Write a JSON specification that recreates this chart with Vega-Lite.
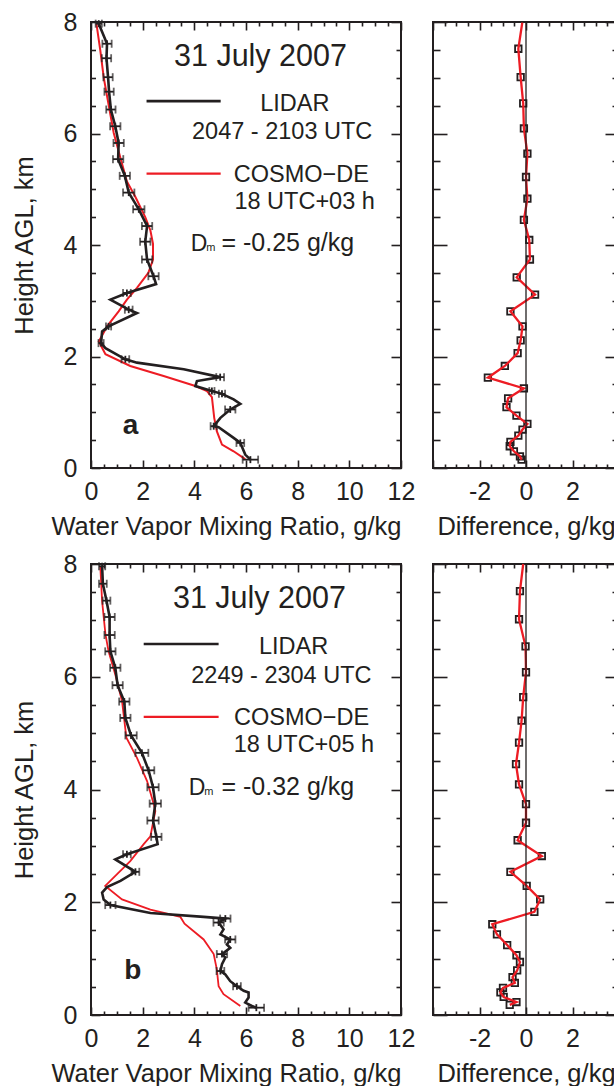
{
  "$schema": "https://vega.github.io/schema/vega-lite/v6.json",
  "background": "white",
  "padding": {"left": 11, "top": 9, "right": 0, "bottom": 0},
  "bounds": "flush",
  "columns": 2,
  "spacing": {"row": 96, "column": 32},
  "datasets": {
    "one": [{}],
    "a_lidar": [
      {"h": 7.97, "q": 0.30, "err": 0.12}, {"h": 7.61, "q": 0.62, "err": 0.18}, {"h": 7.35, "q": 0.60, "err": 0.18},
      {"h": 7.01, "q": 0.66, "err": 0.18}, {"h": 6.75, "q": 0.70, "err": 0.18}, {"h": 6.43, "q": 0.77, "err": 0.18},
      {"h": 6.13, "q": 0.94, "err": 0.2}, {"h": 5.83, "q": 1.07, "err": 0.2}, {"h": 5.54, "q": 1.05, "err": 0.2},
      {"h": 5.24, "q": 1.31, "err": 0.2}, {"h": 4.94, "q": 1.46, "err": 0.22}, {"h": 4.64, "q": 1.85, "err": 0.22},
      {"h": 4.34, "q": 2.17, "err": 0.2}, {"h": 4.06, "q": 2.10, "err": 0.2}, {"h": 3.74, "q": 2.17, "err": 0.2},
      {"h": 3.44, "q": 2.42, "err": 0.2}, {"h": 3.30, "q": 2.52, "err": null}, {"h": 3.14, "q": 1.39, "err": 0.15},
      {"h": 3.02, "q": 0.75, "err": null}, {"h": 2.84, "q": 1.46, "err": 0.15}, {"h": 2.78, "q": 1.78, "err": null},
      {"h": 2.54, "q": 0.68, "err": 0.1}, {"h": 2.45, "q": 0.43, "err": null}, {"h": 2.24, "q": 0.39, "err": 0.1},
      {"h": 2.15, "q": 0.56, "err": null}, {"h": 1.95, "q": 1.33, "err": 0.15}, {"h": 1.89, "q": 1.78, "err": null},
      {"h": 1.77, "q": 3.59, "err": null}, {"h": 1.63, "q": 5.00, "err": 0.15}, {"h": 1.56, "q": 4.10, "err": null},
      {"h": 1.47, "q": 4.04, "err": null}, {"h": 1.38, "q": 4.68, "err": 0.1}, {"h": 1.33, "q": 5.07, "err": 0.12},
      {"h": 1.23, "q": 5.52, "err": null}, {"h": 1.15, "q": 5.78, "err": null}, {"h": 1.05, "q": 5.39, "err": 0.2},
      {"h": 0.90, "q": 5.01, "err": null}, {"h": 0.75, "q": 4.75, "err": 0.12}, {"h": 0.73, "q": 4.94, "err": null},
      {"h": 0.54, "q": 5.52, "err": null}, {"h": 0.45, "q": 5.78, "err": 0.15}, {"h": 0.24, "q": 5.97, "err": null},
      {"h": 0.15, "q": 6.17, "err": 0.3}
    ],
    "a_cosmo": [
      {"h": 7.97, "q": 0.21}, {"h": 7.49, "q": 0.36}, {"h": 7.01, "q": 0.49}, {"h": 6.52, "q": 0.68},
      {"h": 6.01, "q": 0.88}, {"h": 5.56, "q": 1.14}, {"h": 5.14, "q": 1.39}, {"h": 4.86, "q": 1.72},
      {"h": 4.50, "q": 2.10}, {"h": 4.26, "q": 2.30}, {"h": 4.02, "q": 2.40}, {"h": 3.74, "q": 2.40},
      {"h": 3.50, "q": 2.22}, {"h": 3.23, "q": 1.78}, {"h": 3.02, "q": 1.39}, {"h": 2.81, "q": 1.07},
      {"h": 2.54, "q": 0.62}, {"h": 2.27, "q": 0.30}, {"h": 2.04, "q": 0.56}, {"h": 1.83, "q": 1.52},
      {"h": 1.65, "q": 2.81}, {"h": 1.47, "q": 4.04}, {"h": 1.38, "q": 4.49}, {"h": 1.27, "q": 4.68},
      {"h": 0.90, "q": 4.77}, {"h": 0.66, "q": 4.87}, {"h": 0.42, "q": 5.07}, {"h": 0.30, "q": 5.52},
      {"h": 0.16, "q": 5.97}
    ],
    "a_dline": [
      {"h": 7.99, "d": -0.16}, {"h": 7.52, "d": -0.33}, {"h": 7.01, "d": -0.23}, {"h": 6.54, "d": -0.12},
      {"h": 6.09, "d": -0.09}, {"h": 5.64, "d": 0.06}, {"h": 5.22, "d": 0.0}, {"h": 4.83, "d": 0.06},
      {"h": 4.45, "d": -0.09}, {"h": 4.09, "d": 0.14}, {"h": 3.74, "d": 0.17}, {"h": 3.42, "d": -0.40},
      {"h": 3.11, "d": 0.39}, {"h": 2.81, "d": -0.67}, {"h": 2.54, "d": -0.15}, {"h": 2.29, "d": -0.23},
      {"h": 2.06, "d": -0.36}, {"h": 1.83, "d": -0.91}, {"h": 1.62, "d": -1.64}, {"h": 1.43, "d": -0.09},
      {"h": 1.25, "d": -0.77}, {"h": 1.09, "d": -0.84}, {"h": 0.94, "d": -0.41}, {"h": 0.79, "d": 0.06},
      {"h": 0.69, "d": -0.15}, {"h": 0.58, "d": -0.33}, {"h": 0.47, "d": -0.67}, {"h": 0.39, "d": -0.70},
      {"h": 0.30, "d": -0.52}, {"h": 0.21, "d": -0.26}, {"h": 0.15, "d": -0.19}
    ],
    "a_dpts": [
      {"h": 7.52, "d": -0.33}, {"h": 7.01, "d": -0.23}, {"h": 6.54, "d": -0.12},
      {"h": 6.09, "d": -0.09}, {"h": 5.64, "d": 0.06}, {"h": 5.22, "d": 0.0}, {"h": 4.83, "d": 0.06},
      {"h": 4.45, "d": -0.09}, {"h": 4.09, "d": 0.14}, {"h": 3.74, "d": 0.17}, {"h": 3.42, "d": -0.40},
      {"h": 3.11, "d": 0.39}, {"h": 2.81, "d": -0.67}, {"h": 2.54, "d": -0.15}, {"h": 2.29, "d": -0.23},
      {"h": 2.06, "d": -0.36}, {"h": 1.83, "d": -0.91}, {"h": 1.62, "d": -1.64}, {"h": 1.43, "d": -0.09},
      {"h": 1.25, "d": -0.77}, {"h": 1.09, "d": -0.84}, {"h": 0.94, "d": -0.41}, {"h": 0.79, "d": 0.06},
      {"h": 0.69, "d": -0.15}, {"h": 0.58, "d": -0.33}, {"h": 0.47, "d": -0.67}, {"h": 0.39, "d": -0.70},
      {"h": 0.30, "d": -0.52}, {"h": 0.21, "d": -0.26}, {"h": 0.15, "d": -0.19}
    ],
    "b_lidar": [
      {"h": 7.96, "q": 0.43, "err": 0.12}, {"h": 7.65, "q": 0.46, "err": 0.15}, {"h": 7.35, "q": 0.60, "err": 0.15},
      {"h": 7.06, "q": 0.72, "err": 0.2}, {"h": 6.74, "q": 0.72, "err": 0.2}, {"h": 6.45, "q": 0.75, "err": 0.2},
      {"h": 6.16, "q": 0.94, "err": 0.2}, {"h": 5.85, "q": 1.03, "err": 0.2}, {"h": 5.56, "q": 1.29, "err": 0.2},
      {"h": 5.27, "q": 1.33, "err": 0.2}, {"h": 4.96, "q": 1.55, "err": 0.22}, {"h": 4.65, "q": 1.97, "err": 0.25},
      {"h": 4.34, "q": 2.23, "err": 0.22}, {"h": 4.04, "q": 2.40, "err": 0.22}, {"h": 3.75, "q": 2.49, "err": 0.22},
      {"h": 3.45, "q": 2.40, "err": 0.22}, {"h": 3.16, "q": 2.53, "err": 0.2}, {"h": 3.03, "q": 2.58, "err": null},
      {"h": 2.85, "q": 1.39, "err": 0.15}, {"h": 2.76, "q": 0.94, "err": null}, {"h": 2.54, "q": 1.72, "err": 0.15},
      {"h": 2.38, "q": 1.14, "err": null}, {"h": 2.27, "q": 0.62, "err": null}, {"h": 2.17, "q": 0.43, "err": null},
      {"h": 2.05, "q": 0.49, "err": null}, {"h": 1.95, "q": 0.75, "err": 0.2}, {"h": 1.81, "q": 2.30, "err": null},
      {"h": 1.74, "q": 4.36, "err": null}, {"h": 1.71, "q": 5.20, "err": 0.2}, {"h": 1.64, "q": 4.94, "err": 0.2},
      {"h": 1.52, "q": 5.13, "err": null}, {"h": 1.43, "q": 5.01, "err": null}, {"h": 1.34, "q": 5.39, "err": 0.2},
      {"h": 1.25, "q": 5.26, "err": null}, {"h": 1.19, "q": 5.39, "err": null}, {"h": 1.08, "q": 5.07, "err": 0.2},
      {"h": 1.02, "q": 5.20, "err": null}, {"h": 0.90, "q": 5.07, "err": null}, {"h": 0.78, "q": 5.01, "err": 0.15},
      {"h": 0.72, "q": 5.20, "err": null}, {"h": 0.60, "q": 5.39, "err": null}, {"h": 0.51, "q": 5.65, "err": 0.15},
      {"h": 0.43, "q": 5.91, "err": null}, {"h": 0.40, "q": 6.10, "err": null}, {"h": 0.31, "q": 6.10, "err": null},
      {"h": 0.22, "q": 5.97, "err": null}, {"h": 0.16, "q": 6.23, "err": null}, {"h": 0.13, "q": 6.40, "err": 0.3}
    ],
    "b_cosmo": [
      {"h": 7.96, "q": 0.36}, {"h": 7.34, "q": 0.43}, {"h": 6.75, "q": 0.56}, {"h": 6.45, "q": 0.68},
      {"h": 6.04, "q": 0.94}, {"h": 5.57, "q": 1.20}, {"h": 4.92, "q": 1.37}, {"h": 4.56, "q": 1.78},
      {"h": 4.15, "q": 2.17}, {"h": 3.74, "q": 2.43}, {"h": 3.62, "q": 2.49}, {"h": 3.17, "q": 2.30},
      {"h": 3.03, "q": 2.04}, {"h": 2.73, "q": 1.52}, {"h": 2.50, "q": 1.01}, {"h": 2.29, "q": 0.55},
      {"h": 2.05, "q": 1.20}, {"h": 1.87, "q": 2.30}, {"h": 1.74, "q": 3.46}, {"h": 1.62, "q": 3.62},
      {"h": 1.34, "q": 4.36}, {"h": 1.08, "q": 4.75}, {"h": 0.81, "q": 4.87}, {"h": 0.51, "q": 4.94},
      {"h": 0.37, "q": 5.13}, {"h": 0.16, "q": 5.78}
    ],
    "b_dline": [
      {"h": 8.0, "d": -0.12}, {"h": 7.52, "d": -0.26}, {"h": 7.02, "d": -0.30}, {"h": 6.54, "d": -0.02},
      {"h": 6.08, "d": 0.0}, {"h": 5.64, "d": -0.12}, {"h": 5.22, "d": -0.19}, {"h": 4.83, "d": -0.30},
      {"h": 4.45, "d": -0.43}, {"h": 4.09, "d": -0.30}, {"h": 3.74, "d": 0.0}, {"h": 3.41, "d": 0.0},
      {"h": 3.10, "d": -0.36}, {"h": 2.82, "d": 0.68}, {"h": 2.54, "d": -0.67}, {"h": 2.29, "d": 0.03},
      {"h": 2.05, "d": 0.61}, {"h": 1.83, "d": 0.36}, {"h": 1.61, "d": -1.45}, {"h": 1.43, "d": -1.25},
      {"h": 1.24, "d": -0.81}, {"h": 1.06, "d": -0.41}, {"h": 0.94, "d": -0.26}, {"h": 0.79, "d": -0.38},
      {"h": 0.67, "d": -0.58}, {"h": 0.57, "d": -0.48}, {"h": 0.48, "d": -0.99}, {"h": 0.40, "d": -1.10},
      {"h": 0.32, "d": -0.96}, {"h": 0.23, "d": -0.41}, {"h": 0.18, "d": -0.70}
    ],
    "b_dpts": [
      {"h": 7.52, "d": -0.26}, {"h": 7.02, "d": -0.30}, {"h": 6.54, "d": -0.02},
      {"h": 6.08, "d": 0.0}, {"h": 5.64, "d": -0.12}, {"h": 5.22, "d": -0.19}, {"h": 4.83, "d": -0.30},
      {"h": 4.45, "d": -0.43}, {"h": 4.09, "d": -0.30}, {"h": 3.74, "d": 0.0}, {"h": 3.41, "d": 0.0},
      {"h": 3.10, "d": -0.36}, {"h": 2.82, "d": 0.68}, {"h": 2.54, "d": -0.67}, {"h": 2.29, "d": 0.03},
      {"h": 2.05, "d": 0.61}, {"h": 1.83, "d": 0.36}, {"h": 1.61, "d": -1.45}, {"h": 1.43, "d": -1.25},
      {"h": 1.24, "d": -0.81}, {"h": 1.06, "d": -0.41}, {"h": 0.94, "d": -0.26}, {"h": 0.79, "d": -0.38},
      {"h": 0.67, "d": -0.58}, {"h": 0.57, "d": -0.48}, {"h": 0.48, "d": -0.99}, {"h": 0.40, "d": -1.10},
      {"h": 0.32, "d": -0.96}, {"h": 0.23, "d": -0.41}, {"h": 0.18, "d": -0.70}
    ]
  },
  "concat": [
    {
      "width": 310, "height": 446,
      "resolve": {"axis": {"x": "independent", "y": "independent"}},
      "layer": [
        {"data": {"name": "a_cosmo"},
         "mark": {"type": "line", "color": "#ed1c24", "strokeWidth": 2},
         "encoding": {
           "x": {"field": "q", "type": "quantitative", "scale": {"domain": [0, 12], "nice": false, "zero": false},
                 "axis": {"orient": "bottom", "values": [0,0.5,1,1.5,2,2.5,3,3.5,4,4.5,5,5.5,6,6.5,7,7.5,8,8.5,9,9.5,10,10.5,11,11.5,12],
                          "tickSize": {"condition": {"test": "datum.value % 2 === 0", "value": -8}, "value": -4},
                          "labelExpr": "datum.value % 2 === 0 ? '' + datum.value : ''", "labelPadding": 19,
                          "title": "Water Vapor Mixing Ratio, g/kg", "titleAnchor": "end", "titlePadding": 6}},
           "y": {"field": "h", "type": "quantitative", "scale": {"domain": [0, 8], "nice": false, "zero": false},
                 "axis": {"orient": "left", "values": [0,0.5,1,1.5,2,2.5,3,3.5,4,4.5,5,5.5,6,6.5,7,7.5,8],
                          "tickSize": {"condition": {"test": "datum.value % 2 === 0", "value": -9}, "value": -4.5},
                          "labelExpr": "datum.value % 2 === 0 ? '' + datum.value : ''", "labelPadding": 23,
                          "title": "Height AGL, km", "titlePadding": 26}},
           "order": {"field": "h", "type": "quantitative"}}},
        {"data": {"name": "a_lidar"},
         "mark": {"type": "line", "color": "#231f20", "strokeWidth": 2.6},
         "encoding": {
           "x": {"field": "q", "type": "quantitative", "scale": {"domain": [0, 12], "nice": false, "zero": false},
                 "axis": {"orient": "top", "values": [0,0.5,1,1.5,2,2.5,3,3.5,4,4.5,5,5.5,6,6.5,7,7.5,8,8.5,9,9.5,10,10.5,11,11.5,12],
                          "tickSize": {"condition": {"test": "datum.value % 2 === 0", "value": -8}, "value": -4},
                          "labels": false, "title": null}},
           "y": {"field": "h", "type": "quantitative", "scale": {"domain": [0, 8], "nice": false, "zero": false},
                 "axis": {"orient": "right", "values": [0,0.5,1,1.5,2,2.5,3,3.5,4,4.5,5,5.5,6,6.5,7,7.5,8],
                          "tickSize": {"condition": {"test": "datum.value % 2 === 0", "value": -10}, "value": -5},
                          "labels": false, "title": null}},
           "order": {"field": "h", "type": "quantitative"}}},
        {"data": {"name": "a_lidar"},
         "transform": [{"filter": "isValid(datum.err)"}],
         "mark": {"type": "errorbar", "color": "#231f20", "thickness": 1.8, "ticks": {"size": 8, "thickness": 1.8, "color": "#231f20"}},
         "encoding": {
           "x": {"field": "q", "type": "quantitative", "scale": {"domain": [0, 12], "nice": false, "zero": false}, "axis": null},
           "xError": {"field": "err"},
           "y": {"field": "h", "type": "quantitative", "scale": {"domain": [0, 8], "nice": false, "zero": false}, "axis": null}}},
        {"data": {"name": "a_lidar"},
         "transform": [{"filter": "isValid(datum.err)"}],
         "mark": {"type": "tick", "orient": "vertical", "size": 7, "thickness": 1.8, "color": "#231f20", "opacity": 1},
         "encoding": {
           "x": {"field": "q", "type": "quantitative", "scale": {"domain": [0, 12], "nice": false, "zero": false}, "axis": null},
           "y": {"field": "h", "type": "quantitative", "scale": {"domain": [0, 8], "nice": false, "zero": false}, "axis": null}}},
        {"data": {"name": "one"}, "mark": {"type": "text", "text": "31 July 2007", "fontSize": 30.5, "align": "center", "baseline": "alphabetic", "color": "#231f20"},
         "encoding": {"x": {"datum": 6.56, "type": "quantitative", "axis": null}, "y": {"datum": 7.21, "type": "quantitative", "axis": null}}},
        {"data": {"name": "one"}, "mark": {"type": "rule", "color": "#231f20", "strokeWidth": 2.6},
         "encoding": {"x": {"datum": 2.15, "type": "quantitative", "axis": null}, "x2": {"datum": 5.02}, "y": {"datum": 6.58, "type": "quantitative", "axis": null}}},
        {"data": {"name": "one"}, "mark": {"type": "text", "text": "LIDAR", "fontSize": 23.5, "align": "center", "baseline": "alphabetic", "color": "#231f20"},
         "encoding": {"x": {"datum": 7.89, "type": "quantitative", "axis": null}, "y": {"datum": 6.40, "type": "quantitative", "axis": null}}},
        {"data": {"name": "one"}, "mark": {"type": "text", "text": "2047 - 2103 UTC", "fontSize": 23.5, "align": "center", "baseline": "alphabetic", "color": "#231f20"},
         "encoding": {"x": {"datum": 7.40, "type": "quantitative", "axis": null}, "y": {"datum": 5.90, "type": "quantitative", "axis": null}}},
        {"data": {"name": "one"}, "mark": {"type": "rule", "color": "#ed1c24", "strokeWidth": 2.2},
         "encoding": {"x": {"datum": 2.15, "type": "quantitative", "axis": null}, "x2": {"datum": 5.02}, "y": {"datum": 5.28, "type": "quantitative", "axis": null}}},
        {"data": {"name": "one"}, "mark": {"type": "text", "text": "COSMO−DE", "fontSize": 23.5, "align": "center", "baseline": "alphabetic", "color": "#231f20"},
         "encoding": {"x": {"datum": 8.14, "type": "quantitative", "axis": null}, "y": {"datum": 5.13, "type": "quantitative", "axis": null}}},
        {"data": {"name": "one"}, "mark": {"type": "text", "text": "18 UTC+03 h", "fontSize": 23.5, "align": "center", "baseline": "alphabetic", "color": "#231f20"},
         "encoding": {"x": {"datum": 8.27, "type": "quantitative", "axis": null}, "y": {"datum": 4.65, "type": "quantitative", "axis": null}}},
        {"data": {"name": "one"}, "mark": {"type": "text", "text": "D", "fontSize": 23, "align": "left", "baseline": "alphabetic", "color": "#231f20"},
         "encoding": {"x": {"datum": 3.86, "type": "quantitative", "axis": null}, "y": {"datum": 3.90, "type": "quantitative", "axis": null}}},
        {"data": {"name": "one"}, "mark": {"type": "text", "text": "m", "fontSize": 11, "align": "left", "baseline": "alphabetic", "color": "#231f20"},
         "encoding": {"x": {"datum": 4.46, "type": "quantitative", "axis": null}, "y": {"datum": 3.90, "type": "quantitative", "axis": null}}},
        {"data": {"name": "one"}, "mark": {"type": "text", "text": "= -0.25 g/kg", "fontSize": 25, "align": "left", "baseline": "alphabetic", "color": "#231f20"},
         "encoding": {"x": {"datum": 5.05, "type": "quantitative", "axis": null}, "y": {"datum": 3.90, "type": "quantitative", "axis": null}}},
        {"data": {"name": "one"}, "mark": {"type": "text", "text": "a", "fontSize": 28, "fontWeight": "bold", "align": "center", "baseline": "alphabetic", "color": "#231f20"},
         "encoding": {"x": {"datum": 1.53, "type": "quantitative", "axis": null}, "y": {"datum": 0.61, "type": "quantitative", "axis": null}}}
      ]
    },
    {
      "width": 186, "height": 446,
      "resolve": {"axis": {"x": "independent", "y": "independent"}},
      "layer": [
        {"data": {"name": "a_dpts"},
         "mark": {"type": "point", "shape": "square", "filled": false, "size": 42, "stroke": "#231f20", "strokeWidth": 1.8, "opacity": 1},
         "encoding": {
           "x": {"field": "d", "type": "quantitative", "scale": {"domain": [-4, 4], "nice": false, "zero": false},
                 "axis": {"orient": "bottom", "values": [-4,-3.5,-3,-2.5,-2,-1.5,-1,-0.5,0,0.5,1,1.5,2,2.5,3,3.5,4],
                          "tickSize": {"condition": {"test": "datum.value % 2 === 0", "value": -8}, "value": -4},
                          "labelExpr": "datum.value % 2 === 0 && abs(datum.value) < 4 ? (datum.value < 0 ? '-' + abs(datum.value) : '' + datum.value) : ''",
                          "labelPadding": 19, "title": "Difference, g/kg", "titlePadding": 6}},
           "y": {"field": "h", "type": "quantitative", "scale": {"domain": [0, 8], "nice": false, "zero": false},
                 "axis": {"orient": "left", "values": [0,0.5,1,1.5,2,2.5,3,3.5,4,4.5,5,5.5,6,6.5,7,7.5,8],
                          "tickSize": {"condition": {"test": "datum.value % 2 === 0", "value": -14}, "value": -7},
                          "labels": false, "title": null}}}},
        {"data": {"name": "a_dline"},
         "mark": {"type": "line", "color": "#ed1c24", "strokeWidth": 2.3},
         "encoding": {
           "x": {"field": "d", "type": "quantitative", "scale": {"domain": [-4, 4], "nice": false, "zero": false},
                 "axis": {"orient": "top", "values": [-4,-3.5,-3,-2.5,-2,-1.5,-1,-0.5,0,0.5,1,1.5,2,2.5,3,3.5,4],
                          "tickSize": {"condition": {"test": "datum.value % 2 === 0", "value": -8}, "value": -4},
                          "labels": false, "title": null}},
           "y": {"field": "h", "type": "quantitative", "scale": {"domain": [0, 8], "nice": false, "zero": false},
                 "axis": {"orient": "right", "values": [0,0.5,1,1.5,2,2.5,3,3.5,4,4.5,5,5.5,6,6.5,7,7.5,8],
                          "tickSize": {"condition": {"test": "datum.value % 2 === 0", "value": -14}, "value": -7},
                          "labels": false, "title": null}},
           "order": {"field": "h", "type": "quantitative"}}},
        {"data": {"name": "one"}, "mark": {"type": "rule", "color": "#231f20", "strokeWidth": 1.3},
         "encoding": {"x": {"datum": 0, "type": "quantitative", "axis": null}}}
      ]
    },
    {
      "width": 310, "height": 451,
      "resolve": {"axis": {"x": "independent", "y": "independent"}},
      "layer": [
        {"data": {"name": "b_cosmo"},
         "mark": {"type": "line", "color": "#ed1c24", "strokeWidth": 1.8},
         "encoding": {
           "x": {"field": "q", "type": "quantitative", "scale": {"domain": [0, 12], "nice": false, "zero": false},
                 "axis": {"orient": "bottom", "values": [0,0.5,1,1.5,2,2.5,3,3.5,4,4.5,5,5.5,6,6.5,7,7.5,8,8.5,9,9.5,10,10.5,11,11.5,12],
                          "tickSize": {"condition": {"test": "datum.value % 2 === 0", "value": -8}, "value": -4},
                          "labelExpr": "datum.value % 2 === 0 ? '' + datum.value : ''", "labelPadding": 19,
                          "title": "Water Vapor Mixing Ratio, g/kg", "titleAnchor": "end", "titlePadding": 6}},
           "y": {"field": "h", "type": "quantitative", "scale": {"domain": [0, 8], "nice": false, "zero": false},
                 "axis": {"orient": "left", "values": [0,0.5,1,1.5,2,2.5,3,3.5,4,4.5,5,5.5,6,6.5,7,7.5,8],
                          "tickSize": {"condition": {"test": "datum.value % 2 === 0", "value": -9}, "value": -4.5},
                          "labelExpr": "datum.value % 2 === 0 ? '' + datum.value : ''", "labelPadding": 23,
                          "title": "Height AGL, km", "titlePadding": 26}},
           "order": {"field": "h", "type": "quantitative"}}},
        {"data": {"name": "b_lidar"},
         "mark": {"type": "line", "color": "#231f20", "strokeWidth": 2.6},
         "encoding": {
           "x": {"field": "q", "type": "quantitative", "scale": {"domain": [0, 12], "nice": false, "zero": false},
                 "axis": {"orient": "top", "values": [0,0.5,1,1.5,2,2.5,3,3.5,4,4.5,5,5.5,6,6.5,7,7.5,8,8.5,9,9.5,10,10.5,11,11.5,12],
                          "tickSize": {"condition": {"test": "datum.value % 2 === 0", "value": -8}, "value": -4},
                          "labels": false, "title": null}},
           "y": {"field": "h", "type": "quantitative", "scale": {"domain": [0, 8], "nice": false, "zero": false},
                 "axis": {"orient": "right", "values": [0,0.5,1,1.5,2,2.5,3,3.5,4,4.5,5,5.5,6,6.5,7,7.5,8],
                          "tickSize": {"condition": {"test": "datum.value % 2 === 0", "value": -10}, "value": -5},
                          "labels": false, "title": null}},
           "order": {"field": "h", "type": "quantitative"}}},
        {"data": {"name": "b_lidar"},
         "transform": [{"filter": "isValid(datum.err)"}],
         "mark": {"type": "errorbar", "color": "#231f20", "thickness": 1.8, "ticks": {"size": 8, "thickness": 1.8, "color": "#231f20"}},
         "encoding": {
           "x": {"field": "q", "type": "quantitative", "scale": {"domain": [0, 12], "nice": false, "zero": false}, "axis": null},
           "xError": {"field": "err"},
           "y": {"field": "h", "type": "quantitative", "scale": {"domain": [0, 8], "nice": false, "zero": false}, "axis": null}}},
        {"data": {"name": "b_lidar"},
         "transform": [{"filter": "isValid(datum.err)"}],
         "mark": {"type": "tick", "orient": "vertical", "size": 7, "thickness": 1.8, "color": "#231f20", "opacity": 1},
         "encoding": {
           "x": {"field": "q", "type": "quantitative", "scale": {"domain": [0, 12], "nice": false, "zero": false}, "axis": null},
           "y": {"field": "h", "type": "quantitative", "scale": {"domain": [0, 8], "nice": false, "zero": false}, "axis": null}}},
        {"data": {"name": "one"}, "mark": {"type": "text", "text": "31 July 2007", "fontSize": 30.5, "align": "center", "baseline": "alphabetic", "color": "#231f20"},
         "encoding": {"x": {"datum": 6.52, "type": "quantitative", "axis": null}, "y": {"datum": 7.22, "type": "quantitative", "axis": null}}},
        {"data": {"name": "one"}, "mark": {"type": "rule", "color": "#231f20", "strokeWidth": 2.6},
         "encoding": {"x": {"datum": 2.04, "type": "quantitative", "axis": null}, "x2": {"datum": 4.94}, "y": {"datum": 6.58, "type": "quantitative", "axis": null}}},
        {"data": {"name": "one"}, "mark": {"type": "text", "text": "LIDAR", "fontSize": 23.5, "align": "center", "baseline": "alphabetic", "color": "#231f20"},
         "encoding": {"x": {"datum": 7.84, "type": "quantitative", "axis": null}, "y": {"datum": 6.41, "type": "quantitative", "axis": null}}},
        {"data": {"name": "one"}, "mark": {"type": "text", "text": "2249 - 2304 UTC", "fontSize": 23.5, "align": "center", "baseline": "alphabetic", "color": "#231f20"},
         "encoding": {"x": {"datum": 7.37, "type": "quantitative", "axis": null}, "y": {"datum": 5.89, "type": "quantitative", "axis": null}}},
        {"data": {"name": "one"}, "mark": {"type": "rule", "color": "#ed1c24", "strokeWidth": 2.2},
         "encoding": {"x": {"datum": 2.04, "type": "quantitative", "axis": null}, "x2": {"datum": 4.94}, "y": {"datum": 5.29, "type": "quantitative", "axis": null}}},
        {"data": {"name": "one"}, "mark": {"type": "text", "text": "COSMO−DE", "fontSize": 23.5, "align": "center", "baseline": "alphabetic", "color": "#231f20"},
         "encoding": {"x": {"datum": 8.15, "type": "quantitative", "axis": null}, "y": {"datum": 5.15, "type": "quantitative", "axis": null}}},
        {"data": {"name": "one"}, "mark": {"type": "text", "text": "18 UTC+05 h", "fontSize": 23.5, "align": "center", "baseline": "alphabetic", "color": "#231f20"},
         "encoding": {"x": {"datum": 8.24, "type": "quantitative", "axis": null}, "y": {"datum": 4.66, "type": "quantitative", "axis": null}}},
        {"data": {"name": "one"}, "mark": {"type": "text", "text": "D", "fontSize": 23, "align": "left", "baseline": "alphabetic", "color": "#231f20"},
         "encoding": {"x": {"datum": 3.78, "type": "quantitative", "axis": null}, "y": {"datum": 3.91, "type": "quantitative", "axis": null}}},
        {"data": {"name": "one"}, "mark": {"type": "text", "text": "m", "fontSize": 11, "align": "left", "baseline": "alphabetic", "color": "#231f20"},
         "encoding": {"x": {"datum": 4.38, "type": "quantitative", "axis": null}, "y": {"datum": 3.91, "type": "quantitative", "axis": null}}},
        {"data": {"name": "one"}, "mark": {"type": "text", "text": "= -0.32 g/kg", "fontSize": 25, "align": "left", "baseline": "alphabetic", "color": "#231f20"},
         "encoding": {"x": {"datum": 5.05, "type": "quantitative", "axis": null}, "y": {"datum": 3.91, "type": "quantitative", "axis": null}}},
        {"data": {"name": "one"}, "mark": {"type": "text", "text": "b", "fontSize": 28, "fontWeight": "bold", "align": "center", "baseline": "alphabetic", "color": "#231f20"},
         "encoding": {"x": {"datum": 1.62, "type": "quantitative", "axis": null}, "y": {"datum": 0.63, "type": "quantitative", "axis": null}}}
      ]
    },
    {
      "width": 186, "height": 451,
      "resolve": {"axis": {"x": "independent", "y": "independent"}},
      "layer": [
        {"data": {"name": "b_dpts"},
         "mark": {"type": "point", "shape": "square", "filled": false, "size": 42, "stroke": "#231f20", "strokeWidth": 1.8, "opacity": 1},
         "encoding": {
           "x": {"field": "d", "type": "quantitative", "scale": {"domain": [-4, 4], "nice": false, "zero": false},
                 "axis": {"orient": "bottom", "values": [-4,-3.5,-3,-2.5,-2,-1.5,-1,-0.5,0,0.5,1,1.5,2,2.5,3,3.5,4],
                          "tickSize": {"condition": {"test": "datum.value % 2 === 0", "value": -8}, "value": -4},
                          "labelExpr": "datum.value % 2 === 0 && abs(datum.value) < 4 ? (datum.value < 0 ? '-' + abs(datum.value) : '' + datum.value) : ''",
                          "labelPadding": 19, "title": "Difference, g/kg", "titlePadding": 6}},
           "y": {"field": "h", "type": "quantitative", "scale": {"domain": [0, 8], "nice": false, "zero": false},
                 "axis": {"orient": "left", "values": [0,0.5,1,1.5,2,2.5,3,3.5,4,4.5,5,5.5,6,6.5,7,7.5,8],
                          "tickSize": {"condition": {"test": "datum.value % 2 === 0", "value": -14}, "value": -7},
                          "labels": false, "title": null}}}},
        {"data": {"name": "b_dline"},
         "mark": {"type": "line", "color": "#ed1c24", "strokeWidth": 2.3},
         "encoding": {
           "x": {"field": "d", "type": "quantitative", "scale": {"domain": [-4, 4], "nice": false, "zero": false},
                 "axis": {"orient": "top", "values": [-4,-3.5,-3,-2.5,-2,-1.5,-1,-0.5,0,0.5,1,1.5,2,2.5,3,3.5,4],
                          "tickSize": {"condition": {"test": "datum.value % 2 === 0", "value": -8}, "value": -4},
                          "labels": false, "title": null}},
           "y": {"field": "h", "type": "quantitative", "scale": {"domain": [0, 8], "nice": false, "zero": false},
                 "axis": {"orient": "right", "values": [0,0.5,1,1.5,2,2.5,3,3.5,4,4.5,5,5.5,6,6.5,7,7.5,8],
                          "tickSize": {"condition": {"test": "datum.value % 2 === 0", "value": -14}, "value": -7},
                          "labels": false, "title": null}},
           "order": {"field": "h", "type": "quantitative"}}},
        {"data": {"name": "one"}, "mark": {"type": "rule", "color": "#231f20", "strokeWidth": 1.3},
         "encoding": {"x": {"datum": 0, "type": "quantitative", "axis": null}}}
      ]
    }
  ],
  "config": {
    "font": "Liberation Sans",
    "view": {"stroke": "#231f20", "strokeWidth": 2},
    "axis": {"domain": false, "grid": false, "tickColor": "#231f20", "tickWidth": 1.6, "tickCap": "butt",
             "labelColor": "#231f20", "labelFont": "Liberation Sans", "labelFontSize": 25,
             "titleFont": "Liberation Sans", "titleFontSize": 25.5, "titleFontWeight": "normal", "titleColor": "#231f20",
             "labelOverlap": false, "labelBound": false, "labelFlush": false},
    "text": {"font": "Liberation Sans", "color": "#231f20"}
  }
}
